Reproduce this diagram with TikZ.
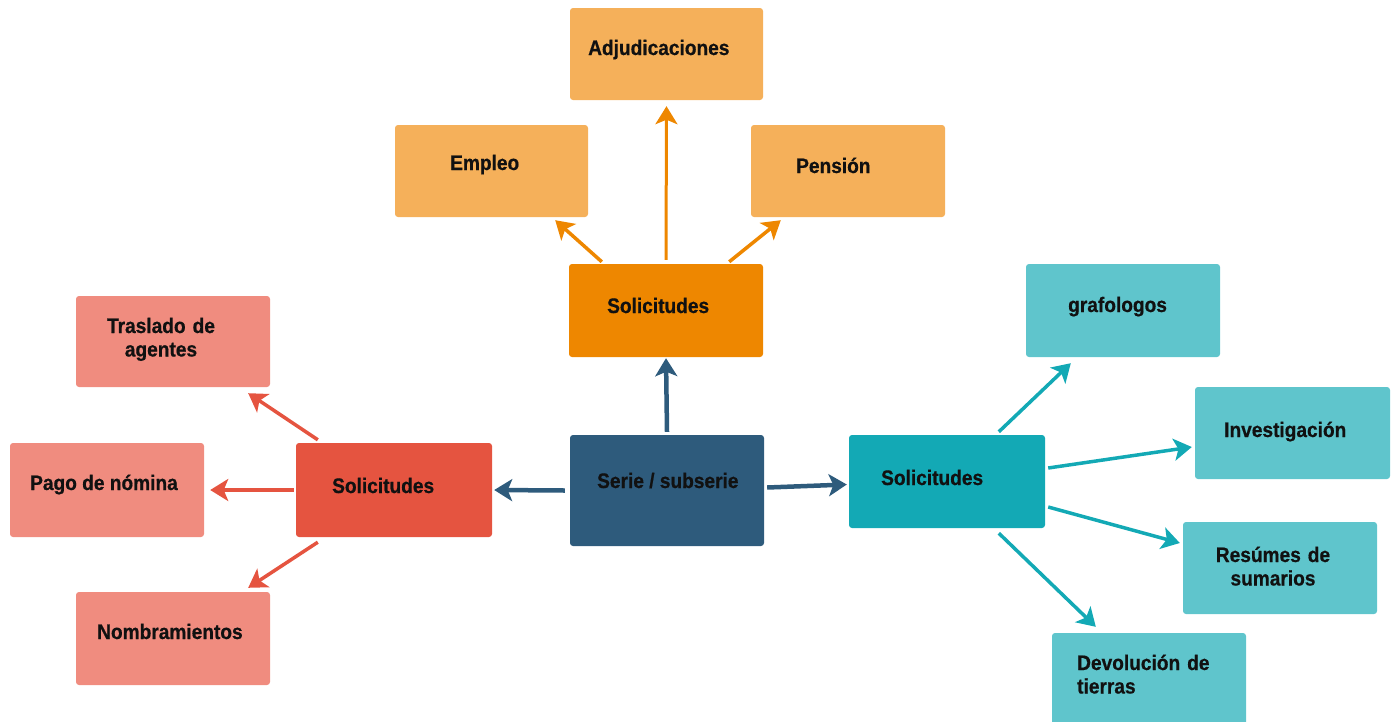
\documentclass[tikz,border=0pt]{standalone}
\usepackage{fontspec}
\setmainfont{Liberation Sans}[FakeStretch=0.91, BoldFeatures={FakeBold=0.6}]
\usetikzlibrary{arrows.meta}
\definecolor{cblue}{HTML}{2E5B7C}
\definecolor{corange}{HTML}{EE8700}
\definecolor{corangeL}{HTML}{F5B05A}
\definecolor{cred}{HTML}{E55440}
\definecolor{credL}{HTML}{F08C7F}
\definecolor{cteal}{HTML}{13A9B5}
\definecolor{ctealL}{HTML}{5FC5CC}
\definecolor{ctext}{HTML}{111111}
\tikzset{
  box/.style={rectangle, rounded corners=3pt, inner sep=0pt, draw=none},
  lbl/.style={inner sep=0pt, font=\fontsize{21}{23.5}\selectfont\bfseries, text=ctext},
  conn/.style={line width=3.5pt, -{Stealth[length=18pt,width=22pt,inset=4.5pt]}},
}
\begin{document}
\begin{tikzpicture}[x=1pt,y=-1pt]
\useasboundingbox (0,0) rectangle (1395,721);
\clip (0,0) rectangle (1395,721);
% boxes
\node[box, fill=cblue, minimum width=194pt, minimum height=111pt] (cen) at (667,490.5) {};
\node[box, fill=corange, minimum width=194pt, minimum height=93pt] (osol) at (666,310.5) {};
\node[box, fill=corangeL, minimum width=193pt, minimum height=92pt] (adj) at (666.5,54) {};
\node[box, fill=corangeL, minimum width=193pt, minimum height=92pt] (emp) at (491.5,171) {};
\node[box, fill=corangeL, minimum width=194pt, minimum height=92pt] (pen) at (848,171) {};
\node[box, fill=cred, minimum width=196pt, minimum height=94pt] (rsol) at (394,490) {};
\node[box, fill=credL, minimum width=194pt, minimum height=91pt] (tra) at (173,341.5) {};
\node[box, fill=credL, minimum width=194pt, minimum height=94pt] (pago) at (107,490) {};
\node[box, fill=credL, minimum width=194pt, minimum height=93pt] (nom) at (173,638.5) {};
\node[box, fill=cteal, minimum width=196pt, minimum height=93pt] (tsol) at (947,481.5) {};
\node[box, fill=ctealL, minimum width=194pt, minimum height=93pt] (gra) at (1123,310.5) {};
\node[box, fill=ctealL, minimum width=195pt, minimum height=92pt] (inv) at (1292.5,433) {};
\node[box, fill=ctealL, minimum width=194pt, minimum height=92pt] (res) at (1280,568) {};
\node[box, fill=ctealL, minimum width=194pt, minimum height=92pt] (dev) at (1149,679) {};
% labels
\node[lbl, anchor=base west] (tcen) at (597,488) {Serie / subserie};
\node[lbl, anchor=base west] (tosol) at (607,313) {Solicitudes};
\node[lbl, anchor=base west] (tadj) at (588,55) {Adjudicaciones};
\node[lbl, anchor=base west] (temp) at (450,170) {Empleo};
\node[lbl, anchor=base west] (tpen) at (796,173) {Pensión};
\node[lbl, anchor=base west] (trsol) at (332,493) {Solicitudes};
\node[lbl, anchor=base, text width=150pt, align=center] (ttra) at (161,333) {Traslado de\\agentes};
\node[lbl, anchor=base west] (tpago) at (30,490) {Pago de nómina};
\node[lbl, anchor=base west] (tnom) at (97,639) {Nombramientos};
\node[lbl, anchor=base west] (ttsol) at (881,485) {Solicitudes};
\node[lbl, anchor=base west] (tgra) at (1068,312) {grafologos};
\node[lbl, anchor=base west] (tinv) at (1224,437) {Investigación};
\node[lbl, anchor=base, text width=150pt, align=center] (tres) at (1273,562) {Resúmes de\\sumarios};
\node[lbl, anchor=base west, text width=160pt, align=left] (tdev) at (1077,670) {Devolución de\\tierras};
% connectors
\draw[conn, cblue, line width=4.5pt] ([yshift=3pt]cen.north) -- ([yshift=-1pt]osol.south);
\draw[conn, cblue, line width=4.5pt] ([xshift=-5pt]cen.west) -- ([xshift=2pt]rsol.east);
\draw[conn, cblue, line width=4.5pt] ([xshift=3pt,yshift=3pt]cen.east) -- ([xshift=-2pt,yshift=-3pt]tsol.west);
\draw[conn, corange, line width=3pt] ([yshift=4pt]osol.north) -- ([yshift=-6pt]adj.south);
\draw[conn, corange] ([xshift=33pt,yshift=2pt]osol.north west) -- ([xshift=-33pt,yshift=-3pt]emp.south east);
\draw[conn, corange] ([xshift=-34pt,yshift=2pt]osol.north east) -- ([xshift=30pt,yshift=-3pt]pen.south west);
\draw[conn, cred] ([xshift=22pt,yshift=3pt]rsol.north west) -- ([xshift=-22pt,yshift=-6pt]tra.south east);
\draw[conn, cred] ([xshift=-2pt]rsol.west) -- ([xshift=6pt]pago.east);
\draw[conn, cred] ([xshift=22pt,yshift=-5pt]rsol.south west) -- ([xshift=-22pt,yshift=4pt]nom.north east);
\draw[conn, cteal] ([xshift=150pt,yshift=3pt]tsol.north west) -- ([xshift=45pt,yshift=-6pt]gra.south west);
\draw[conn, cteal] ([xshift=3pt,yshift=13.5pt]tsol.east) -- ([xshift=-3pt,yshift=-14pt]inv.west);
\draw[conn, cteal] ([xshift=3pt,yshift=-25.5pt]tsol.east) -- ([xshift=-3pt,yshift=25pt]res.west);
\draw[conn, cteal] ([xshift=150pt,yshift=-5pt]tsol.south west) -- ([xshift=44pt,yshift=6pt]dev.north west);
\end{tikzpicture}
\end{document}
